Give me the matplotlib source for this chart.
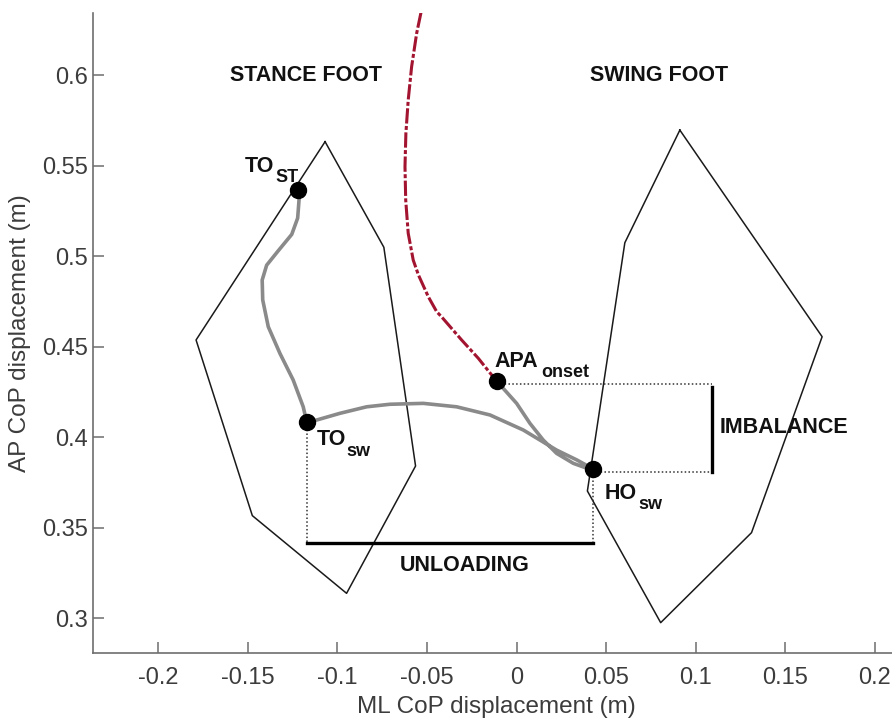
import matplotlib
matplotlib.use("Agg")
import matplotlib.pyplot as plt

plt.rcParams['font.family'] = ['Liberation Sans', 'DejaVu Sans']

# ---- data ----
stance_x = [-0.1069, -0.0741, -0.0564, -0.0949, -0.1475, -0.1789, -0.1069]
stance_y = [0.5632, 0.5049, 0.3841, 0.3138, 0.3567, 0.4537, 0.5632]

swing_x = [0.0911, 0.1705, 0.1311, 0.0804, 0.0395, 0.0604, 0.0911]
swing_y = [0.5696, 0.4555, 0.3473, 0.2976, 0.3703, 0.5074, 0.5696]

pre_apa_x = [-0.0534, -0.0558, -0.0586, -0.0605, -0.0618, -0.0623, -0.0619, -0.0605,
             -0.0577, -0.0548, -0.0493, -0.0446, -0.0419, -0.0307, -0.0214, -0.0112]
pre_apa_y = [0.6344, 0.6230, 0.6046, 0.5862, 0.5678, 0.5494, 0.5310, 0.5126,
             0.4978, 0.4896, 0.4776, 0.4693, 0.4665, 0.4537, 0.4436, 0.4310]

cop_x = [-0.0112, -0.0075, 0.0000, 0.0074, 0.0148, 0.0223, 0.0316, 0.0419, 0.0424,
         0.0398, 0.0335, 0.0223, 0.0037, -0.0149, -0.0335, -0.0521, -0.0707, -0.0837,
         -0.0986, -0.1116, -0.1172, -0.1191, -0.1247, -0.1321, -0.1386, -0.1417,
         -0.1420, -0.1395, -0.1330, -0.1255, -0.1222, -0.1213, -0.1219]
cop_y = [0.4310, 0.4270, 0.4187, 0.4077, 0.3985, 0.3911, 0.3856, 0.3819, 0.3824,
         0.3841, 0.3875, 0.3929, 0.4040, 0.4123, 0.4168, 0.4187, 0.4182, 0.4168,
         0.4132, 0.4095, 0.4086, 0.4168, 0.4316, 0.4463, 0.4610, 0.4758,
         0.4868, 0.4950, 0.5030, 0.5120, 0.5210, 0.5328, 0.5365]

event_names = ["TO_ST", "TO_sw", "APA_onset", "HO_sw"]
event_x = [-0.1219, -0.1172, -0.0112, 0.0424]
event_y = [0.5365, 0.4086, 0.4310, 0.3824]

unloading_y = 0.3416
imbalance_x = 0.1088
imbalance_top = 0.4295
imbalance_bottom = 0.3810

x_ticks = [-0.2, -0.15, -0.1, -0.05, 0, 0.05, 0.1, 0.15, 0.2]
x_tick_labels = ["-0.2", "-0.15", "-0.1", "-0.05", "0", "0.05", "0.1", "0.15", "0.2"]
y_ticks = [0.3, 0.35, 0.4, 0.45, 0.5, 0.55, 0.6]
y_tick_labels = ["0.3", "0.35", "0.4", "0.45", "0.5", "0.55", "0.6"]

# ---- figure ----
fig = plt.figure(figsize=(8.92, 7.22), dpi=100)
ax = fig.add_axes([0.1039, 0.0952, 0.8961, 0.8864])
ax.set_xlim(-0.2366, 0.2095)
ax.set_ylim(0.2807, 0.6341)

poly_kw = dict(color='#1a1a1a', lw=1.1, zorder=2)
ax.plot(stance_x, stance_y, **poly_kw)
ax.plot(swing_x, swing_y, **poly_kw)

ax.plot(pre_apa_x, pre_apa_y, color='#A2142F', lw=2.2,
        linestyle=(0, (5, 0.8, 1.3, 0.8)), zorder=3)
ax.plot(cop_x, cop_y, color='#8a8a8a', lw=2.6, zorder=3,
        solid_capstyle='round', solid_joinstyle='round')

# dotted guides
dot_kw = dict(color='#333333', lw=1.1, linestyle=(0, (1, 1.5)), zorder=2)
to_sw_x, to_sw_y = event_x[1], event_y[1]
ho_x, ho_y = event_x[3], event_y[3]
apa_x = event_x[2]
ax.plot([to_sw_x, to_sw_x], [to_sw_y, unloading_y], **dot_kw)
ax.plot([ho_x, ho_x], [ho_y, unloading_y], **dot_kw)
ax.plot([apa_x, imbalance_x], [imbalance_top, imbalance_top], **dot_kw)
ax.plot([ho_x, imbalance_x], [imbalance_bottom, imbalance_bottom], **dot_kw)

# solid measure bars
ax.plot([to_sw_x, ho_x], [unloading_y, unloading_y], color='black', lw=2.4, zorder=3)
ax.plot([imbalance_x, imbalance_x], [imbalance_top - 0.0018, imbalance_bottom],
        color='black', lw=2.4, zorder=3)

ax.plot(event_x, event_y, 'o', color='black', ms=11.5, zorder=5, linestyle='none')

# texts
bold = dict(fontweight='bold', color='#111111')
ax.text(-0.1176, 0.600, "STANCE FOOT", ha='center', va='center', fontsize=15.5, **bold)
ax.text(0.0795, 0.600, "SWING FOOT", ha='center', va='center', fontsize=15.5, **bold)
ax.text(0.1131, 0.4051, "IMBALANCE", ha='left', va='center', fontsize=15.5, **bold)
ax.text(-0.0291, 0.3289, "UNLOADING", ha='center', va='center', fontsize=15.5, **bold)

def px2x(px):
    return (px - 516.7) / 1792.0

def py2y(py):
    return 0.3 + (618.3 - py) / 1811.0

labels = [
    ("TO", "ST", 245, 172, 276, 181.7),
    ("TO", "sw", 316.7, 445, 346.7, 456),
    ("APA", "onset", 495, 367, 541, 377.3),
    ("HO", "sw", 605, 499.3, 638.3, 509),
]
for main, sub, mx, my, sx, sy in labels:
    ax.text(px2x(mx), py2y(my), main, ha='left', va='baseline', fontsize=15.5, **bold)
    ax.text(px2x(sx), py2y(sy), sub, ha='left', va='baseline', fontsize=13, **bold)

# axes styling
for s in ['top', 'right']:
    ax.spines[s].set_visible(False)
for s in ['left', 'bottom']:
    ax.spines[s].set_color('#6e6e6e')
    ax.spines[s].set_linewidth(1.2)
ax.set_xticks(x_ticks)
ax.set_xticklabels(x_tick_labels)
ax.set_yticks(y_ticks)
ax.set_yticklabels(y_tick_labels)
ax.tick_params(direction='in', length=8, width=1.1, color='#6e6e6e',
               labelsize=17, labelcolor='#3c3c3c')
ax.tick_params(axis='x', pad=10)
ax.tick_params(axis='y', pad=3.5)
ax.set_xlabel("ML CoP displacement (m)", fontsize=17.5, color='#3c3c3c')
ax.set_ylabel("AP CoP displacement (m)", fontsize=17.5, color='#3c3c3c')
ax.xaxis.set_label_coords(0.5046, -0.0665)
ax.yaxis.set_label_coords(-0.0775, 0.4997)

fig.savefig("out.png", dpi=100)
